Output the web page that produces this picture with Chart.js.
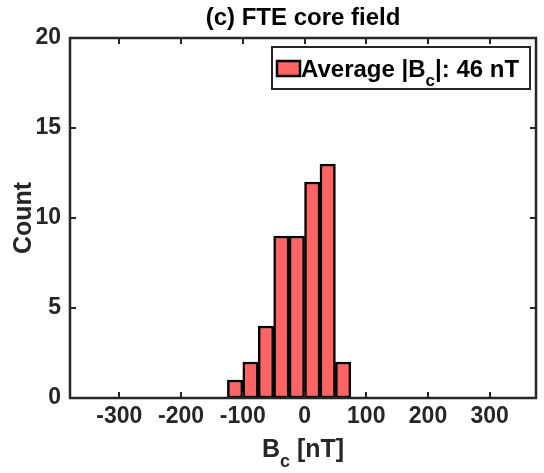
<!DOCTYPE html>
<html>
<head>
<meta charset="utf-8">
<style>
  html, body { margin: 0; padding: 0; background: #fff; }
  canvas { display: block; }
</style>
</head>
<body>
<canvas id="hist" width="544" height="473"></canvas>

<script src="https://cdn.jsdelivr.net/npm/chart.js"></script>

<script>
  // histogram bins (25 nT wide) and their counts
  const binCenters = [-112.5, -87.5, -62.5, -37.5, -12.5, 12.5, 37.5, 62.5];
  const counts = [1, 2, 4, 9, 9, 12, 13, 2];
  const xTicks = [-300, -200, -100, 0, 100, 200, 300];
  const yTicks = [0, 5, 10, 15, 20];
  const avgField = 46;

  const FONT = '"Liberation Sans", Arial, Helvetica, sans-serif';
  const AXIS_COLOR = '#262626';
  const BAR_FILL = '#ff6464';

  // draws the box, inward ticks, titles and the legend the MATLAB way
  const decorations = {
    id: 'decorations',
    afterDraw(chart) {
      const ctx = chart.ctx;
      const a = chart.chartArea;
      const xs = chart.scales.x, ys = chart.scales.y;
      const tl = 6;
      ctx.save();
      ctx.strokeStyle = AXIS_COLOR;
      ctx.lineWidth = 2.5;
      ctx.strokeRect(a.left, a.top, a.right - a.left, a.bottom - a.top);
      ctx.lineWidth = 2;
      ctx.beginPath();
      xTicks.forEach(v => {
        const px = Math.round(xs.getPixelForValue(v));
        ctx.moveTo(px, a.bottom); ctx.lineTo(px, a.bottom - tl);
        ctx.moveTo(px, a.top); ctx.lineTo(px, a.top + tl);
      });
      yTicks.forEach(v => {
        const py = Math.round(ys.getPixelForValue(v));
        ctx.moveTo(a.left, py); ctx.lineTo(a.left + tl, py);
        ctx.moveTo(a.right, py); ctx.lineTo(a.right - tl, py);
      });
      ctx.stroke();

      const cx = (a.left + a.right) / 2;
      ctx.fillStyle = '#000';
      ctx.textBaseline = 'alphabetic';

      // title
      ctx.font = 'bold 24px ' + FONT;
      ctx.textAlign = 'center';
      ctx.fillText('(c) FTE core field', cx, 25);

      // x axis title: B_c [nT]
      ctx.fillStyle = AXIS_COLOR;
      const big = 'bold 25px ' + FONT, small = 'bold 18px ' + FONT;
      ctx.font = big;
      const wB = ctx.measureText('B').width;
      const wRest = ctx.measureText(' [nT]').width;
      ctx.font = small;
      const wSub = ctx.measureText('c').width;
      let x0 = cx - (wB + wSub + wRest) / 2;
      const by = 457;
      ctx.textAlign = 'left';
      ctx.font = big; ctx.fillText('B', x0, by);
      ctx.font = small; ctx.fillText('c', x0 + wB, by + 10);
      ctx.font = big; ctx.fillText(' [nT]', x0 + wB + wSub, by);

      // y axis title
      ctx.save();
      ctx.translate(31, (a.top + a.bottom) / 2);
      ctx.rotate(-Math.PI / 2);
      ctx.textAlign = 'center';
      ctx.font = 'bold 25px ' + FONT;
      ctx.fillText('Count', 0, 0);
      ctx.restore();

      // legend
      const lx = 272, ly = 47, lw = 258, lh = 42;
      ctx.fillStyle = '#fff';
      ctx.fillRect(lx, ly, lw, lh);
      ctx.lineWidth = 2;
      ctx.strokeStyle = AXIS_COLOR;
      ctx.strokeRect(lx, ly, lw, lh);
      ctx.fillStyle = BAR_FILL;
      ctx.fillRect(277, 61, 23, 15);
      ctx.strokeStyle = '#000';
      ctx.lineWidth = 2.5;
      ctx.strokeRect(277, 61, 23, 15);
      ctx.fillStyle = '#000';
      const lb = 77;
      ctx.font = 'bold 24px ' + FONT;
      let tx = 301;
      ctx.fillText('Average |B', tx, lb);
      tx += ctx.measureText('Average |B').width;
      ctx.font = 'bold 17px ' + FONT;
      ctx.fillText('c', tx, lb + 9);
      tx += ctx.measureText('c').width;
      ctx.font = 'bold 24px ' + FONT;
      ctx.fillText('|: ' + avgField + ' nT', tx, lb);
      ctx.restore();
    }
  };

  const tickFont = { family: FONT, size: 23, weight: 'bold' };

  new Chart(document.getElementById('hist'), {
    type: 'bar',
    data: {
      datasets: [{
        data: binCenters.map((x, i) => ({ x: x, y: counts[i] })),
        backgroundColor: BAR_FILL,
        borderColor: '#000',
        borderWidth: 2.5,
        borderSkipped: false,
        barPercentage: 1,
        categoryPercentage: 1
      }]
    },
    options: {
      responsive: false,
      animation: false,
      layout: { padding: { top: 38, right: 8, left: 0, bottom: 0 } },
      plugins: { legend: { display: false }, tooltip: { enabled: false } },
      scales: {
        x: {
          type: 'linear',
          offset: false,
          min: -380,
          max: 375,
          afterBuildTicks: s => { s.ticks = xTicks.map(v => ({ value: v })); },
          afterFit: s => { s.height = 75; },
          grid: { display: false, drawTicks: false, offset: false },
          border: { display: false },
          ticks: { font: tickFont, color: AXIS_COLOR, padding: 5, maxRotation: 0, autoSkip: false }
        },
        y: {
          min: 0,
          max: 20,
          afterBuildTicks: s => { s.ticks = yTicks.map(v => ({ value: v })); },
          afterFit: s => { s.width = 70; },
          grid: { display: false, drawTicks: false },
          border: { display: false },
          ticks: { font: tickFont, color: AXIS_COLOR, padding: 9 }
        }
      }
    },
    plugins: [decorations]
  });
</script>
</body>
</html>
